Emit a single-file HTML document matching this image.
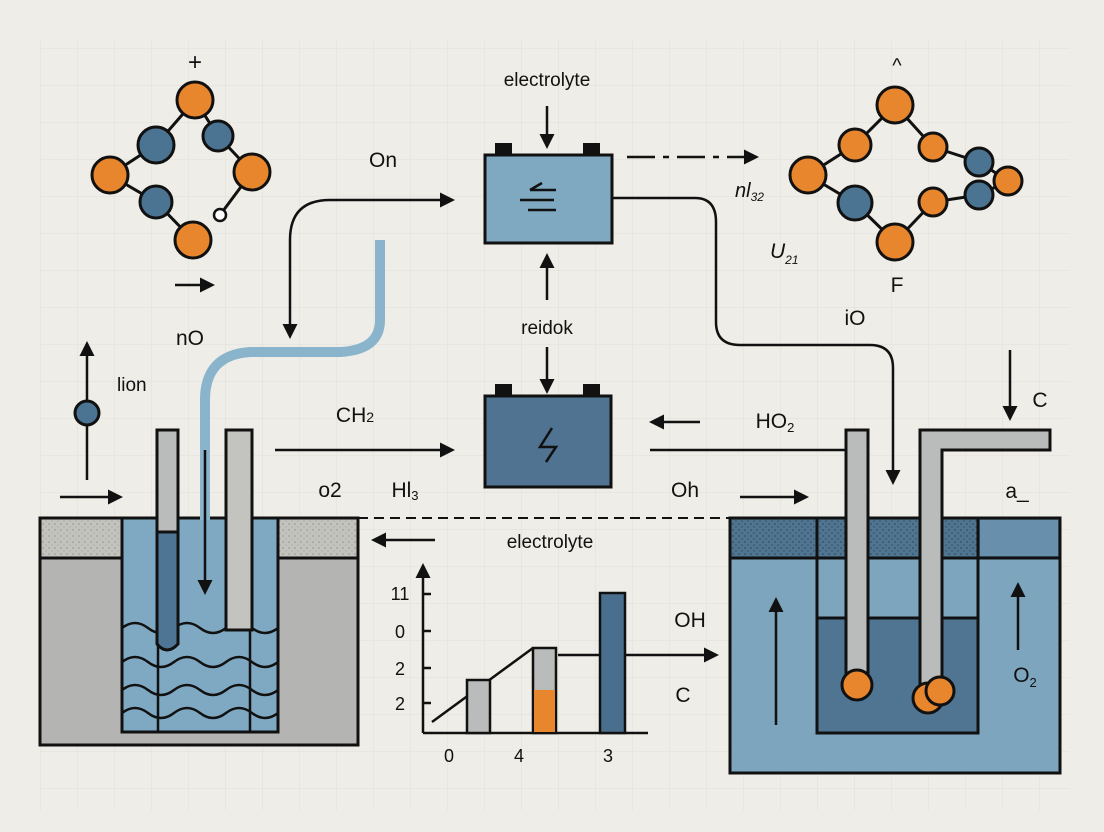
<!DOCTYPE html>
<html><head><meta charset="utf-8"><style>
html,body{margin:0;padding:0;background:#eeede7;}
svg{display:block;font-family:"Liberation Sans",sans-serif;}
</style></head><body>
<svg width="1104" height="832" viewBox="0 0 1104 832" xmlns="http://www.w3.org/2000/svg">
<defs>
<pattern id="grid" width="37" height="37" patternUnits="userSpaceOnUse" x="4" y="12">
<path d="M37 0V37M0 37H37" fill="none" stroke="#e0dfd8" stroke-width="1"/>
</pattern>
<pattern id="speck" width="6" height="6" patternUnits="userSpaceOnUse">
<rect width="6" height="6" fill="#c3c3be"/><circle cx="1" cy="2" r="0.6" fill="#777"/><circle cx="4" cy="5" r="0.5" fill="#888"/>
</pattern>
<pattern id="speckb" width="6" height="6" patternUnits="userSpaceOnUse">
<rect width="6" height="6" fill="#4f7591"/><circle cx="1" cy="2" r="0.6" fill="#223"/><circle cx="4" cy="5" r="0.6" fill="#2a3a4a"/>
</pattern>
<marker id="ah" viewBox="0 0 10 10" refX="8" refY="5" markerWidth="6" markerHeight="6" orient="auto"><path d="M0 0L10 5L0 10z" fill="#111"/></marker>
</defs>
<rect width="1104" height="832" fill="#eeede7"/>
<rect x="40" y="40" width="1030" height="770" fill="url(#grid)"/>

<g stroke="#111" stroke-width="2.5" fill="none" marker-end="url(#ah)">
<path d="M290 300V240Q290 200 330 200H452"/>
<path d="M290 300V336"/>
<path d="M612 198H695Q716 198 716 222V322Q716 345 740 345H870Q893 345 893 368V482"/>
<path d="M547 106V146"/>
<path d="M547 300V256"/>
<path d="M547 347V391"/>
<path d="M275 450H452"/>
<path d="M700 422H652"/>
<path d="M740 497H806"/>
<path d="M435 540H374"/>
<path d="M87 480V344"/>
<path d="M60 497H120"/>
<path d="M1010 350V418"/>
<path d="M175 285H212"/>
<path d="M558 655H716"/>
<path d="M423 733V566"/>
<path d="M627 157H756" stroke-dasharray="28 8 6 8"/>
</g>
<path d="M650 450H848" stroke="#111" stroke-width="2.5"/>
<path d="M358 518H730" stroke="#111" stroke-width="2" stroke-dasharray="10 6"/>

<!-- left beaker -->
<rect x="40" y="518" width="318" height="227" fill="#b4b5b2" stroke="#111" stroke-width="3"/>
<rect x="40" y="518" width="318" height="40" fill="url(#speck)" stroke="#111" stroke-width="3"/>
<rect x="122" y="518" width="156" height="214" fill="#7fa9c2" stroke="#111" stroke-width="3"/>
<g fill="none" stroke="#111" stroke-width="2.5">
<path d="M122 628q13-10 26 0t26 0t26 0t26 0t26 0t26 0"/>
<path d="M122 662q13-10 26 0t26 0t26 0t26 0t26 0t26 0"/>
<path d="M122 690q13-10 26 0t26 0t26 0t26 0t26 0t26 0"/>
<path d="M122 713q13-10 26 0t26 0t26 0t26 0t26 0t26 0"/>
<path d="M158 630V732M250 630V732"/>
</g>
<path d="M380 240V320Q380 350 340 352H250Q205 355 205 400V520" fill="none" stroke="#8ab3cc" stroke-width="10"/>
<rect x="157" y="430" width="21" height="102" fill="#b9bcba" stroke="#111" stroke-width="3"/>
<path d="M157 532H178V644Q167 656 157 644Z" fill="#4e7593" stroke="#111" stroke-width="3"/>
<rect x="226" y="430" width="26" height="200" fill="#c3c3bf" stroke="#111" stroke-width="3"/>

<!-- right beaker -->
<rect x="730" y="518" width="330" height="255" fill="#7ea5be" stroke="#111" stroke-width="3"/>
<rect x="730" y="518" width="330" height="40" fill="url(#speckb)" stroke="#111" stroke-width="3"/>
<rect x="980" y="520" width="78" height="36" fill="#6890ac"/>
<rect x="817" y="518" width="161" height="215" fill="none" stroke="#111" stroke-width="3"/>
<rect x="817" y="618" width="161" height="115" fill="#4f7593" stroke="#111" stroke-width="3"/>
<rect x="846" y="430" width="22" height="255" fill="#b9bcba" stroke="#111" stroke-width="3"/>
<path d="M920 690V430H1050V450H942V690Z" fill="#b9bcba" stroke="#111" stroke-width="3"/>
<g fill="#e8862e" stroke="#111" stroke-width="3">
<circle cx="857" cy="685" r="15"/><circle cx="928" cy="698" r="15"/><circle cx="940" cy="691" r="14"/>
</g>

<g stroke="#111" stroke-width="2.5" fill="none" marker-end="url(#ah)">
<path d="M205 450V592"/>
<path d="M776 725V600"/>
<path d="M1018 650V585"/>
</g>

<!-- batteries -->
<rect x="495" y="143" width="17" height="14" fill="#111"/><rect x="583" y="143" width="17" height="14" fill="#111"/>
<rect x="485" y="155" width="127" height="88" fill="#7fa8c1" stroke="#111" stroke-width="3"/>
<path d="M530 190H556M520 200H554M528 210H556M530 190l12-7" stroke="#111" stroke-width="2.5" fill="none"/>
<rect x="495" y="384" width="17" height="14" fill="#111"/><rect x="583" y="384" width="17" height="14" fill="#111"/>
<rect x="485" y="396" width="126" height="91" fill="#4f7391" stroke="#111" stroke-width="3"/>
<path d="M552 428L540 447H556L546 462" stroke="#111" stroke-width="2.5" fill="none"/>

<!-- chart -->
<g stroke="#111" stroke-width="2.5">
<path d="M423 733H648M423 594H431M423 631H431M423 668H431M423 703H431"/>
<path d="M432 722L533 648" />
<rect x="467" y="680" width="23" height="53" fill="#b9bcba"/>
<rect x="533" y="648" width="23" height="85" fill="#b9bcba"/>
<rect x="534" y="690" width="21" height="42" fill="#e8862e" stroke="none"/>
<rect x="600" y="593" width="25" height="140" fill="#4a6f8e"/>
</g>

<!-- molecules -->
<g stroke="#111" stroke-width="3">
<path d="M195 100L156 145L110 175L156 202L193 240M195 100L218 136L252 172L220 215" fill="none"/>
<path d="M895 105L855 145L808 175L855 203L895 242L933 202L979 195L1008 181L979 162L933 147L895 105" fill="none"/>
<g fill="#e8862e"><circle cx="195" cy="100" r="18"/><circle cx="110" cy="175" r="18"/><circle cx="252" cy="172" r="18"/><circle cx="193" cy="240" r="18"/>
<circle cx="895" cy="105" r="18"/><circle cx="855" cy="145" r="16"/><circle cx="933" cy="147" r="14"/><circle cx="808" cy="175" r="18"/><circle cx="933" cy="202" r="14"/><circle cx="895" cy="242" r="18"/><circle cx="1008" cy="181" r="14"/></g>
<g fill="#4b7392"><circle cx="156" cy="145" r="18"/><circle cx="218" cy="136" r="15"/><circle cx="156" cy="202" r="16"/>
<circle cx="855" cy="203" r="17"/><circle cx="979" cy="162" r="14"/><circle cx="979" cy="195" r="14"/><circle cx="87" cy="413" r="12"/></g>
<circle cx="220" cy="215" r="6" fill="#fff" stroke-width="2.5"/>
</g>

<g fill="#111" font-size="21">
<text x="195" y="70" text-anchor="middle" font-size="24">+</text>
<text x="897" y="72" text-anchor="middle" font-size="20">^</text>
<text x="383" y="167" text-anchor="middle">On</text>
<text x="547" y="86" text-anchor="middle" font-size="19">electrolyte</text>
<text x="547" y="334" text-anchor="middle" font-size="19">reidok</text>
<text x="735" y="197" font-style="italic" font-size="20">nl<tspan font-size="12" dy="4">32</tspan></text>
<text x="770" y="258" font-style="italic">U<tspan font-size="12" dy="6">21</tspan></text>
<text x="897" y="292" text-anchor="middle">F</text>
<text x="855" y="325" text-anchor="middle">iO</text>
<text x="190" y="345" text-anchor="middle">nO</text>
<text x="117" y="391" font-size="19">lion</text>
<text x="355" y="422" text-anchor="middle">CH<tspan font-size="14">2</tspan></text>
<text x="775" y="428" text-anchor="middle">HO<tspan font-size="13" dy="4">2</tspan></text>
<text x="1040" y="407" text-anchor="middle">C</text>
<text x="330" y="497" text-anchor="middle">o2</text>
<text x="405" y="497" text-anchor="middle">Hl<tspan font-size="13" dy="3">3</tspan></text>
<text x="685" y="497" text-anchor="middle">Oh</text>
<text x="1017" y="498" text-anchor="middle">a_</text>
<text x="550" y="548" text-anchor="middle" font-size="19">electrolyte</text>
<text x="690" y="627" text-anchor="middle">OH</text>
<text x="683" y="702" text-anchor="middle">C</text>
<text x="1025" y="682" text-anchor="middle">O<tspan font-size="13" dy="5">2</tspan></text>
<g font-size="18"><text x="400" y="600" text-anchor="middle">11</text><text x="400" y="638" text-anchor="middle">0</text><text x="400" y="675" text-anchor="middle">2</text><text x="400" y="710" text-anchor="middle">2</text>
<text x="449" y="762" text-anchor="middle">0</text><text x="519" y="762" text-anchor="middle">4</text><text x="608" y="762" text-anchor="middle">3</text></g>
</g>
</svg>
</body></html>
